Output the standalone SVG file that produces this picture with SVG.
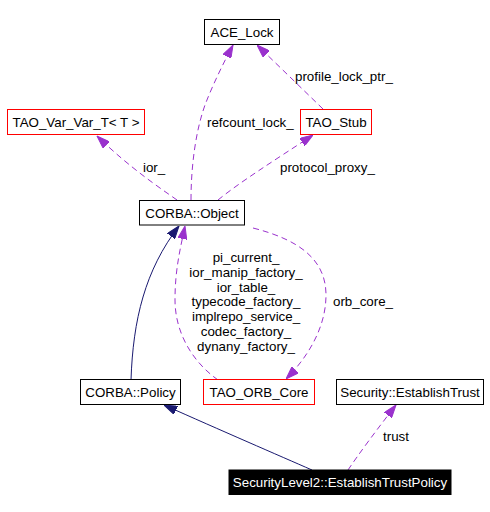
<svg xmlns="http://www.w3.org/2000/svg" width="490" height="512" viewBox="0 0 490 512">
<style>
  text { font-family: "Liberation Sans", Arial, sans-serif; font-size: 13.33px; fill: #000; }
  .node rect { fill: #fff; stroke: #000; stroke-width: 1; }
  .node.red rect { stroke: #ff0000; }
  .node.focus rect { fill: #000; stroke: #000; }
  .node.focus text { fill: #fff; }
  .node text { text-anchor: middle; }
  .dep { fill: none; stroke: #9a32cd; stroke-width: 1; stroke-dasharray: 6,4; marker-end: url(#ap); }
  .inh { fill: none; stroke: #191970; stroke-width: 1; marker-end: url(#an); }
  .lbl { text-anchor: start; }
  .lblc { text-anchor: middle; }
</style>
<defs>
  <marker id="ap" markerUnits="userSpaceOnUse" viewBox="0 0 13 9" refX="13" refY="4.5" markerWidth="13" markerHeight="9" orient="auto">
    <path d="M0,0 L13,4.5 L0,9 Z" fill="#9a32cd" stroke="#9a32cd" stroke-width="1"/>
  </marker>
  <marker id="an" markerUnits="userSpaceOnUse" viewBox="0 0 13 9" refX="13" refY="4.5" markerWidth="13" markerHeight="9" orient="auto">
    <path d="M0,0 L13,4.5 L0,9 Z" fill="#191970" stroke="#191970" stroke-width="1"/>
  </marker>
</defs>
<rect width="490" height="512" fill="#fff"/>
<g id="connectors">
  <path class="dep" d="M191,200 C191,165 196,130 205,105 C213,84 224,62 233,45"/>
  <path class="dep" d="M323,109 L257,45"/>
  <path class="dep" d="M177,200 C160,188 130,168 97,136"/>
  <path class="dep" d="M218,200 C240,182 275,160 313,135"/>
  <path class="inh" d="M131,380 C133,320 145,270 179,226"/>
  <path class="dep" d="M218,380 C190,360 175,330 175,300 C175,270 180,250 185,226"/>
  <path class="dep" d="M253,228 C300,240 326,260 326,295 C326,330 305,360 286,379"/>
  <path class="inh" d="M312,470 C280,456 220,430 164,405"/>
  <path class="dep" d="M348,470 C358,455 378,428 396,405"/>
  <text class="lbl" x="207" y="127">refcount_lock_</text>
  <text class="lbl" x="295" y="81">profile_lock_ptr_</text>
  <text class="lbl" x="143" y="172">ior_</text>
  <text class="lbl" x="280" y="172">protocol_proxy_</text>
  <text class="lblc" x="246" y="262">pi_current_</text>
  <text class="lblc" x="246" y="276.8">ior_manip_factory_</text>
  <text class="lblc" x="246" y="291.6">ior_table_</text>
  <text class="lblc" x="246" y="306.4">typecode_factory_</text>
  <text class="lblc" x="246" y="321.2">implrepo_service_</text>
  <text class="lblc" x="246" y="336">codec_factory_</text>
  <text class="lblc" x="246" y="350.8">dynany_factory_</text>
  <text class="lbl" x="333" y="306.4">orb_core_</text>
  <text class="lbl" x="383" y="441">trust</text>
</g>
<g id="ACE_Lock" class="node"><rect x="204.5" y="19.5" width="75" height="25"/><text x="242" y="37">ACE_Lock</text></g>
<g id="TAO_Var_Var_T" class="node red"><rect x="7.5" y="109.5" width="137" height="25"/><text x="76" y="127">TAO_Var_Var_T&lt; T &gt;</text></g>
<g id="TAO_Stub" class="node red"><rect x="300.5" y="109.5" width="71" height="25"/><text x="336" y="127">TAO_Stub</text></g>
<g id="CORBA_Object" class="node"><rect x="139.5" y="200.5" width="105" height="24.5"/><text x="192" y="217.5">CORBA::Object</text></g>
<g id="CORBA_Policy" class="node"><rect x="80.5" y="379.5" width="100" height="25"/><text x="130.5" y="396.8">CORBA::Policy</text></g>
<g id="TAO_ORB_Core" class="node red"><rect x="203.5" y="379.5" width="111" height="25"/><text x="259" y="396.8">TAO_ORB_Core</text></g>
<g id="Security_EstablishTrust" class="node"><rect x="336.5" y="379.5" width="147" height="25"/><text x="410" y="396.8">Security::EstablishTrust</text></g>
<g id="SecurityLevel2_EstablishTrustPolicy" class="node focus"><rect x="229" y="470" width="222" height="24.5"/><text x="340" y="487">SecurityLevel2::EstablishTrustPolicy</text></g>
</svg>
